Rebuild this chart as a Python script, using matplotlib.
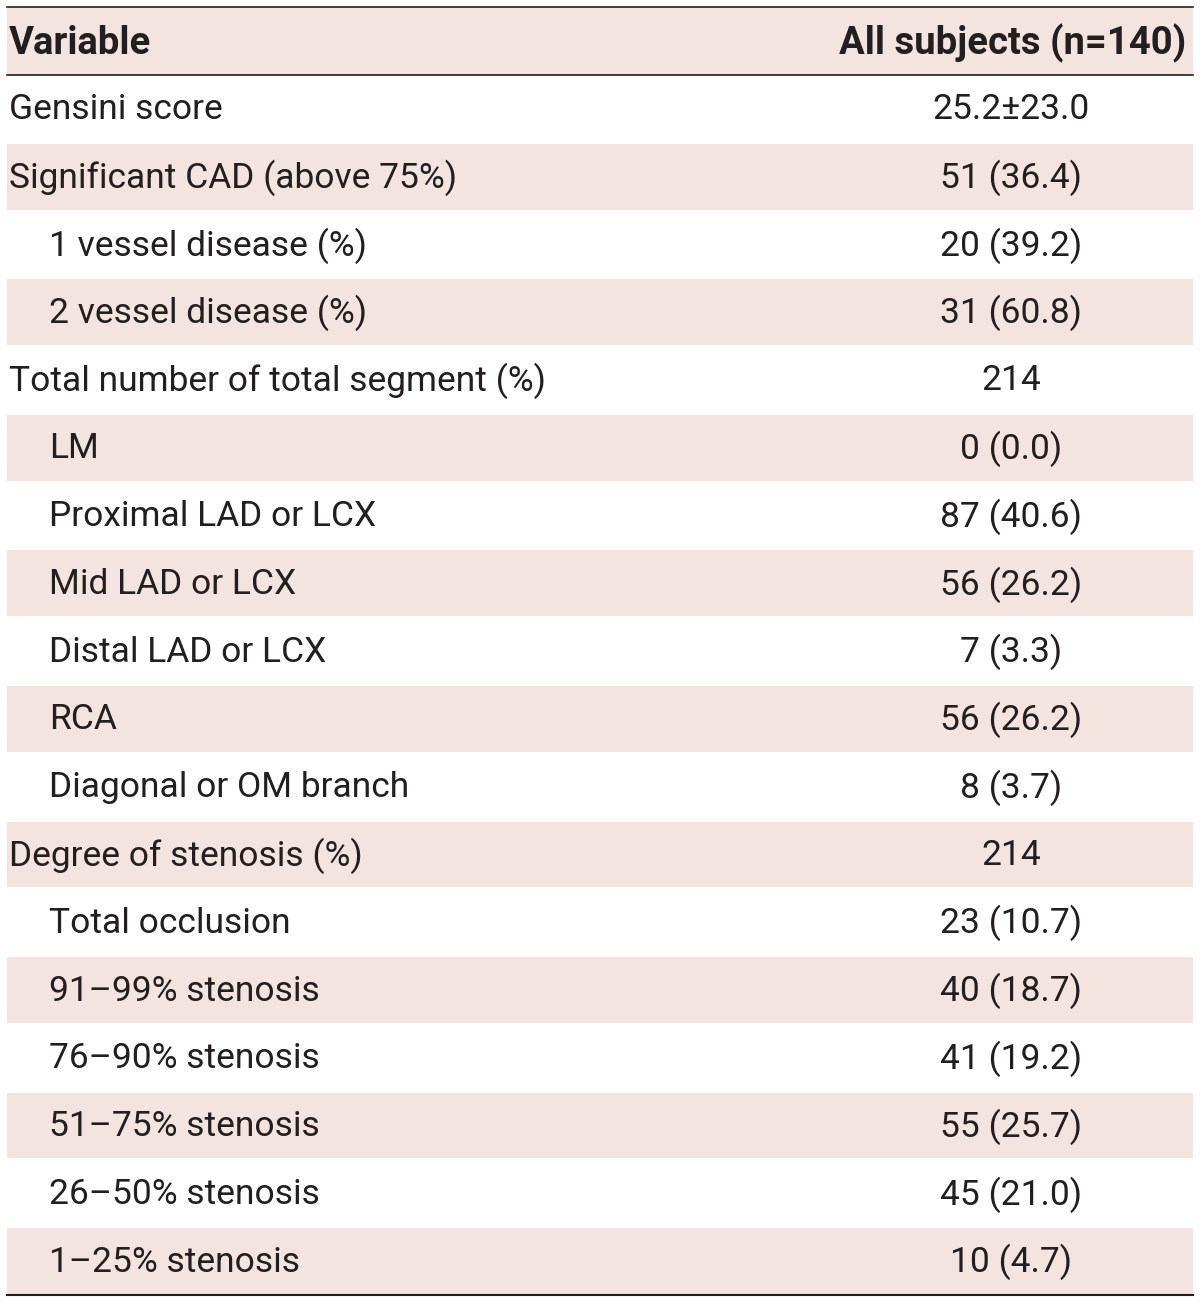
import matplotlib
matplotlib.use("Agg")
import matplotlib.pyplot as plt
from matplotlib.patches import Rectangle
from matplotlib import font_manager

header = ["Variable", "All subjects (n=140)"]
variables = [
    "Gensini score",
    "Significant CAD (above 75%)",
    "1 vessel disease (%)",
    "2 vessel disease (%)",
    "Total number of total segment (%)",
    "LM",
    "Proximal LAD or LCX",
    "Mid LAD or LCX",
    "Distal LAD or LCX",
    "RCA",
    "Diagonal or OM branch",
    "Degree of stenosis (%)",
    "Total occlusion",
    "91\u201399% stenosis",
    "76\u201390% stenosis",
    "51\u201375% stenosis",
    "26\u201350% stenosis",
    "1\u201325% stenosis",
]
values = [
    "25.2\u00b123.0", "51 (36.4)", "20 (39.2)", "31 (60.8)", "214", "0 (0.0)",
    "87 (40.6)", "56 (26.2)", "7 (3.3)", "56 (26.2)", "8 (3.7)", "214",
    "23 (10.7)", "40 (18.7)", "41 (19.2)", "55 (25.7)", "45 (21.0)", "10 (4.7)",
]
indented = [False, False, True, True, False, True, True, True, True, True, True,
            False, True, True, True, True, True, True]

names = {f.name for f in font_manager.fontManager.ttflist}
fam = "Liberation Sans Narrow" if "Liberation Sans Narrow" in names else "Roboto"

W, H = 1200, 1303
fig = plt.figure(figsize=(W / 100, H / 100), dpi=100)
ax = fig.add_axes([0, 0, 1, 1])
ax.set_xlim(0, W)
ax.set_ylim(H, 0)
ax.axis("off")

shade = "#F3E4DF"
txt = "#231F20"
x0, x1 = 7, 1193
top = 7
head_h = 68
row_h = (1295 - 75) / len(variables)
fs = 25.5

# header
ax.add_patch(Rectangle((x0, top), x1 - x0, head_h, facecolor=shade, edgecolor="none"))
ax.text(9, top + head_h / 2 + 2, header[0], ha="left", va="center", fontsize=27.5,
        fontweight="bold", color=txt, family=fam)
ax.text(1186, top + head_h / 2 + 2, header[1], ha="right", va="center", fontsize=27.5,
        fontweight="bold", color=txt, family=fam)

y = top + head_h
for i, (v, val, ind) in enumerate(zip(variables, values, indented)):
    if i % 2 == 1:
        ax.add_patch(Rectangle((x0, y + 1), x1 - x0, row_h - 2, facecolor=shade,
                               edgecolor="none"))
    cy = y + row_h / 2 + 1
    ax.text(49 if ind else 9, cy, v, ha="left", va="center", fontsize=fs,
            color=txt, family=fam)
    ax.text(1011, cy, val, ha="center", va="center", fontsize=fs, color=txt, family=fam)
    y += row_h

ax.plot([x0, x1], [top, top], color=txt, lw=1.2)
ax.plot([x0, x1], [top + head_h, top + head_h], color=txt, lw=1.2)
ax.plot([x0, x1], [y, y], color=txt, lw=1.5)

fig.savefig("out.png", dpi=100)
